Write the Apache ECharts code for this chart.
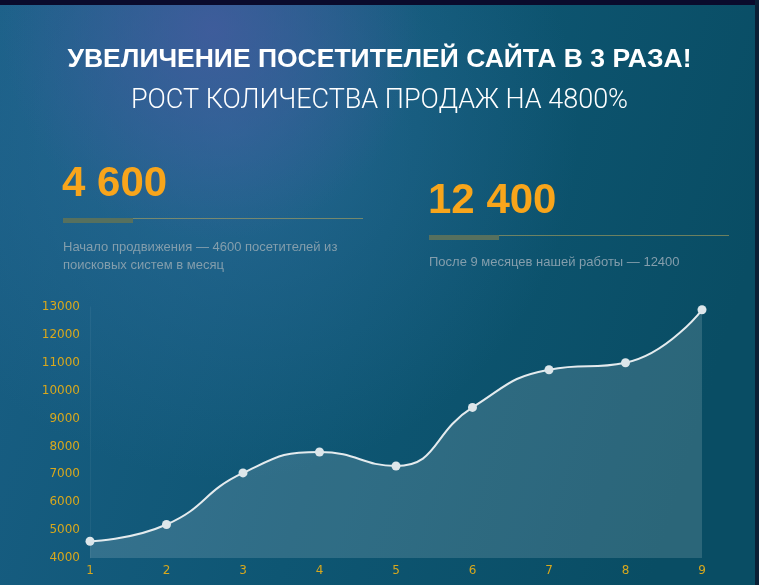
<!DOCTYPE html>
<html>
<head>
<meta charset="utf-8">
<title>Рост посетителей</title>
<script src="https://cdn.jsdelivr.net/npm/echarts@6/dist/echarts.min.js"></script>
<style>
  html, body { margin: 0; padding: 0; background: #0b5570; }
  #chart { width: 759px; height: 585px; }
</style>
</head>
<body>
<div id="chart"></div>
<script>
// данные графика
var months = ['1', '2', '3', '4', '5', '6', '7', '8', '9'];
var visitors = [4600, 5200, 7050, 7800, 7300, 9400, 10750, 11000, 12900];

// тексты
var headline = 'УВЕЛИЧЕНИЕ ПОСЕТИТЕЛЕЙ САЙТА В 3 РАЗА!';
var subline = 'РОСТ КОЛИЧЕСТВА ПРОДАЖ НА 4800%';
var startValue = '4 600';
var endValue = '12 400';
var startNote = 'Начало продвижения — 4600 посетителей из\nпоисковых систем в месяц';
var endNote = 'После 9 месяцев нашей работы — 12400';

var gold = '#d8a81c';
var orange = '#f8a51b';

var chart = echarts.init(document.getElementById('chart'));

var option = {
    backgroundColor: 'transparent',
    graphic: [
        {   // фон
            type: 'rect', z: -10, silent: true,
            shape: { x: 0, y: 0, width: 759, height: 585 },
            style: {
                fill: new echarts.graphic.LinearGradient(0, 0, 1, 0.4, [
                    { offset: 0, color: '#1a5f86' },
                    { offset: 0.55, color: '#0e5673' },
                    { offset: 1, color: '#094d64' }
                ])
            }
        },
        {   // светлое пятно
            type: 'rect', z: -9, silent: true,
            shape: { x: 0, y: 0, width: 759, height: 585 },
            style: {
                fill: new echarts.graphic.RadialGradient(0.3, 0.22, 0.6, [
                    { offset: 0, color: 'rgba(45,108,155,0.7)' },
                    { offset: 1, color: 'rgba(45,108,155,0)' }
                ])
            }
        },
        {   // фиолетовый отблеск
            type: 'rect', z: -8, silent: true,
            shape: { x: 0, y: 0, width: 759, height: 585 },
            style: {
                fill: new echarts.graphic.RadialGradient(0.28, 0.05, 0.36, [
                    { offset: 0, color: 'rgba(72,90,160,0.75)' },
                    { offset: 1, color: 'rgba(72,90,160,0)' }
                ])
            }
        },
        {
            type: 'rect', z: -7, silent: true,
            shape: { x: 0, y: 0, width: 759, height: 5 },
            style: { fill: '#0a0b2c' }
        },
        {
            type: 'rect', z: -7, silent: true,
            shape: { x: 755, y: 0, width: 4, height: 585 },
            style: { fill: '#0a2036' }
        },
        {
            type: 'text', left: 'center', top: 46,
            style: {
                text: headline, fill: '#ffffff',
                font: 'bold 26.5px "Liberation Sans", Arial, sans-serif'
            }
        },
        {
            type: 'text', left: 'center', top: 88,
            style: {
                text: subline, fill: '#ffffff',
                font: '300 27px Roboto, "Liberation Sans", sans-serif'
            }
        },
        {
            type: 'text', left: 62, top: 163,
            style: {
                text: startValue, fill: orange,
                font: 'bold 42px "Liberation Sans", Arial, sans-serif'
            }
        },
        {
            type: 'text', left: 428, top: 180,
            style: {
                text: endValue, fill: orange,
                font: 'bold 42px "Liberation Sans", Arial, sans-serif'
            }
        },
        {
            type: 'rect', silent: true,
            shape: { x: 63, y: 218, width: 300, height: 1 },
            style: { fill: 'rgba(190,170,90,0.55)' }
        },
        {
            type: 'rect', silent: true,
            shape: { x: 63, y: 218, width: 70, height: 5 },
            style: { fill: '#56705e' }
        },
        {
            type: 'rect', silent: true,
            shape: { x: 429, y: 235, width: 300, height: 1 },
            style: { fill: 'rgba(190,170,90,0.55)' }
        },
        {
            type: 'rect', silent: true,
            shape: { x: 429, y: 235, width: 70, height: 5 },
            style: { fill: '#56705e' }
        },
        {
            type: 'text', left: 63, top: 238,
            style: {
                text: startNote, fill: '#849eac', lineHeight: 18,
                font: '13px "Liberation Sans Narrow", "Liberation Sans", sans-serif'
            }
        },
        {
            type: 'text', left: 429, top: 256,
            style: {
                text: endNote, fill: '#849eac',
                font: '13px "Liberation Sans Narrow", "Liberation Sans", sans-serif'
            }
        }
    ],
    grid: {
        left: 90,
        right: 57,
        top: 307,
        bottom: 27
    },
    xAxis: {
        type: 'category',
        data: months,
        boundaryGap: false,
        axisLine: { show: false },
        axisTick: { show: false },
        axisLabel: { color: gold, fontSize: 12, fontFamily: 'DejaVu Sans', margin: 7 }
    },
    yAxis: {
        type: 'value',
        min: 4000,
        max: 13000,
        interval: 1000,
        axisLine: { show: true, lineStyle: { color: 'rgba(255,255,255,0.05)' } },
        axisTick: { show: false },
        splitLine: { show: false },
        axisLabel: {
            color: gold, fontSize: 12, fontFamily: 'DejaVu Sans', margin: 10,
            formatter: function (v) { return String(v); }
        }
    },
    series: [
        {
            name: 'Посетители',
            type: 'line',
            data: visitors,
            smooth: 0.5,
            symbol: 'circle',
            symbolSize: 9,
            itemStyle: { color: '#dde6ea' },
            lineStyle: { color: '#e4ebee', width: 2 },
            areaStyle: { color: 'rgba(255,255,255,0.2)', origin: 'start' }
        }
    ]
};

chart.setOption(option);
</script>
</body>
</html>
